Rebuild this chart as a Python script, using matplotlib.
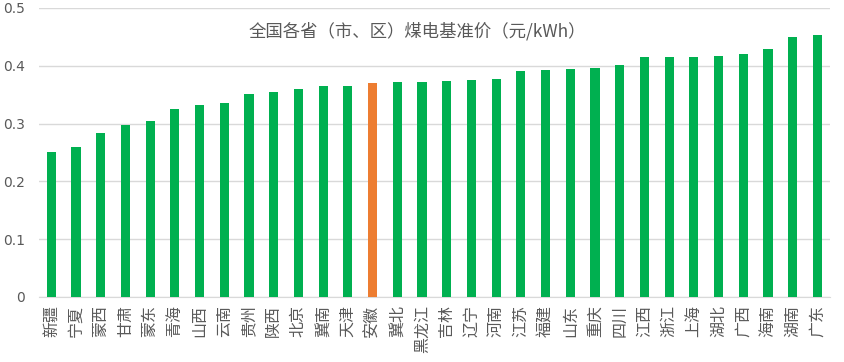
import numpy as np
import matplotlib.pyplot as plt

plt.rcParams['font.family'] = ['Noto Sans CJK SC', 'DejaVu Sans']

provinces = ['新疆', '宁夏', '蒙西', '甘肃', '蒙东', '青海', '山西', '云南', '贵州', '陕西',
             '北京', '冀南', '天津', '安徽', '冀北', '黑龙江', '吉林', '辽宁', '河南', '江苏',
             '福建', '山东', '重庆', '四川', '江西', '浙江', '上海', '湖北', '广西', '海南',
             '湖南', '广东']
prices = [0.25, 0.2595, 0.2829, 0.2978, 0.3035, 0.3247, 0.332, 0.3358, 0.3515, 0.3545,
          0.3598, 0.3644, 0.3655, 0.3693, 0.372, 0.3723, 0.3731, 0.3749, 0.3779, 0.391,
          0.3932, 0.3949, 0.3964, 0.4012, 0.4143, 0.4153, 0.4155, 0.4161, 0.4207, 0.4298,
          0.45, 0.453]
highlight = '安徽'
yticks = [0, 0.1, 0.2, 0.3, 0.4, 0.5]
title = '全国各省（市、区）煤电基准价（元/kWh）'

green = '#00B050'
orange = '#ED7D31'
grey = '#595959'

fig = plt.figure(figsize=(8.45, 3.62), dpi=100)
ax = fig.add_axes([0.046, 0.18, 0.936, 0.798])

x = np.arange(len(provinces))
colors = [orange if p == highlight else green for p in provinces]
ax.bar(x, prices, width=0.37, color=colors, zorder=3)

ax.set_xlim(-0.5, len(provinces) - 0.5)
ax.set_ylim(0, 0.5)
ax.set_yticks(yticks)
ax.set_yticklabels(['0' if v == 0 else '%.1f' % v for v in yticks], color=grey, fontsize=10,
                   family='DejaVu Sans')
ax.set_xticks(x)
ax.set_xticklabels(provinces, rotation=90, color=grey, fontsize=11.5, va='top')
ax.tick_params(axis='both', length=0, pad=6)
ax.tick_params(axis='y', pad=10)

ax.grid(axis='y', color='#d9d9d9', linewidth=1, zorder=0)
for s in ['top', 'right', 'left']:
    ax.spines[s].set_visible(False)
ax.spines['bottom'].set_color('#d9d9d9')

fig.text(0.494, 0.915, title, ha='center', va='center', fontsize=12.5, color=grey)

fig.savefig('out.png', dpi=100)
